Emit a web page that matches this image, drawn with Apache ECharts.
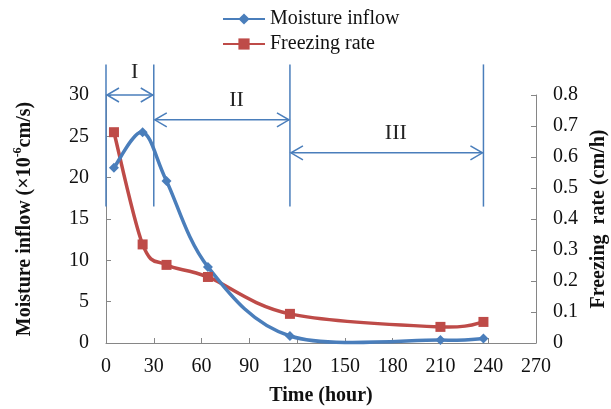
<!DOCTYPE html>
<html>
<head>
	<meta charset="utf-8"/>
	<title>Moisture inflow / Freezing rate</title>
</head>
<body style="margin: 0; background: #fff;">

	<div id="chart" style="width: 611px; height: 409px;"></div>

	<script src="https://cdn.jsdelivr.net/npm/echarts@6/dist/echarts.min.js"></script>
	<script>

		// 数据
		var timeList = [5, 23, 38, 64, 115.5, 210, 237];
		var inflowList = [21.2, 25.5, 19.6, 9.2, 0.85, 0.35, 0.55];
		var rateList = [0.68, 0.318, 0.252, 0.213, 0.094, 0.052, 0.068];
		var xTicks = [0, 270, 30];
		var leftTicks = [0, 30, 5];
		var rightTicks = [0, 0.8, 0.1];

		// 阶段分界线 (x 坐标) 与箭头 (左轴坐标)
		var stageBounds = [0, 30, 115.5, 237];
		var stageTop = 33.7, stageBottom = 16.5;
		var stageNames = ['I', 'II', 'III'];
		var arrowY = [30, 27, 23];
		var nameX = [18, 82, 182];
		var nameY = [32.7, 29.4, 25.4];

		var blue = '#4a7ebb';
		var red = '#be4b48';
		var font = '"Liberation Serif", "DejaVu Serif", serif';

		function pairs (xs, ys) {
			return xs.map(function (x, i) { return [x, ys[i]]; });
		}

		// 平滑曲线 (类似 Excel), 每个点画到下一个点的一段贝塞尔
		function curveRender (ys, color) {
			return function (params, api) {
				var i = params.dataIndex;
				if (i >= timeList.length - 1) return null;
				var p = function (k) {
					k = Math.max(0, Math.min(timeList.length - 1, k));
					return api.coord([timeList[k], ys[k]]);
				};
				var p0 = p(i - 1), p1 = p(i), p2 = p(i + 1), p3 = p(i + 2);
				return {
					type: 'bezierCurve',
					shape: {
						x1: p1[0], y1: p1[1], x2: p2[0], y2: p2[1],
						cpx1: p1[0] + (p2[0] - p0[0]) / 6, cpy1: p1[1] + (p2[1] - p0[1]) / 6,
						cpx2: p2[0] - (p3[0] - p1[0]) / 6, cpy2: p2[1] - (p3[1] - p1[1]) / 6
					},
					style: { stroke: color, lineWidth: 3.5, fill: null, lineCap: 'round' }
				};
			};
		}

		var oChart = document.getElementById('chart');
		var myChart = echarts.init(oChart);

		var axisLabel = { fontFamily: font, fontSize: 20, color: '#111' };
		var axisLine = { show: true, lineStyle: { color: '#868686', width: 1 } };
		var axisTick = { show: true, inside: true, length: 5, lineStyle: { color: '#868686' } };
		var boldName = { fontFamily: font, fontSize: 20, fontWeight: 'bold', color: '#111' };

		var option = {
			animation: false,
			legend: {
				orient: 'vertical',
				left: 217,
				top: 4,
				itemWidth: 42,
				itemHeight: 14,
				itemGap: 5,
				textStyle: { fontFamily: font, fontSize: 20, color: '#111' },
				data: [
					{ name: 'Moisture inflow', lineStyle: { opacity: 1 } },
					{ name: 'Freezing rate', lineStyle: { opacity: 1 } }
				]
			},
			grid: { left: 106, right: 75, top: 95, bottom: 66, outerBoundsMode: 'none', containLabel: false },
			xAxis: {
				type: 'value',
				min: xTicks[0], max: xTicks[1], interval: xTicks[2],
				name: 'Time (hour)',
				nameLocation: 'middle',
				nameGap: 43,
				nameTextStyle: boldName,
				axisLine: axisLine,
				axisTick: axisTick,
				axisLabel: Object.assign({ margin: 14 }, axisLabel),
				splitLine: { show: false }
			},
			yAxis: [
				{
					type: 'value',
					min: leftTicks[0], max: leftTicks[1], interval: leftTicks[2],
					name: '{b|Moisture inflow (×10}{s|-6}{b|cm/s)}',
					nameLocation: 'middle',
					nameGap: 68,
					nameTextStyle: {
						rich: {
							b: boldName,
							s: { fontFamily: font, fontSize: 12, fontWeight: 'bold', color: '#111', verticalAlign: 'top', lineHeight: 26 }
						}
					},
					axisLine: axisLine,
					axisTick: axisTick,
					axisLabel: Object.assign({ margin: 17 }, axisLabel),
					splitLine: { show: false }
				},
				{
					type: 'value',
					min: rightTicks[0], max: rightTicks[1], interval: rightTicks[2],
					name: 'Freezing  rate (cm/h)',
					nameLocation: 'middle',
					nameGap: 48,
					nameRotate: 90,
					nameTextStyle: boldName,
					axisLine: axisLine,
					axisTick: axisTick,
					axisLabel: Object.assign({ margin: 17, formatter: function (v) { return v === 0 ? '0' : v.toFixed(1); } }, axisLabel),
					splitLine: { show: false }
				}
			],
			series: [
				{
					name: 'inflow curve',
					type: 'custom',
					yAxisIndex: 0,
					silent: true,
					clip: false,
					renderItem: curveRender(inflowList, blue),
					data: pairs(timeList, inflowList),
					z: 3
				},
				{
					name: 'rate curve',
					type: 'custom',
					yAxisIndex: 1,
					silent: true,
					clip: false,
					renderItem: curveRender(rateList, red),
					data: pairs(timeList, rateList),
					z: 2
				},
				{
					name: 'Moisture inflow',
					type: 'line',
					yAxisIndex: 0,
					symbol: 'diamond',
					symbolSize: 10,
					data: pairs(timeList, inflowList),
					lineStyle: { color: blue, width: 3.5, opacity: 0 },
					itemStyle: { color: blue },
					z: 4
				},
				{
					name: 'Freezing rate',
					type: 'line',
					yAxisIndex: 1,
					symbol: 'rect',
					symbolSize: 10,
					data: pairs(timeList, rateList),
					lineStyle: { color: red, width: 3.5, opacity: 0 },
					itemStyle: { color: red },
					z: 4
				}
			]
		};

		myChart.setOption(option);

		// 阶段标注: 竖线, 双向箭头, 罗马数字
		function px (x, y) {
			return myChart.convertToPixel({ xAxisIndex: 0, yAxisIndex: 0 }, [x, y]);
		}
		var lineStyle = { stroke: blue, lineWidth: 1.5, fill: null };
		var graphics = [];
		stageBounds.forEach(function (x) {
			var a = px(x, stageTop), b = px(x, stageBottom);
			graphics.push({ type: 'line', silent: true, z: 10, shape: { x1: a[0], y1: a[1], x2: b[0], y2: b[1] }, style: lineStyle });
		});
		stageNames.forEach(function (name, i) {
			var a = px(stageBounds[i], arrowY[i]), b = px(stageBounds[i + 1], arrowY[i]);
			var l = a[0] + 1, r = b[0] - 1, y = a[1];
			graphics.push({ type: 'line', silent: true, z: 10, shape: { x1: l, y1: y, x2: r, y2: y }, style: lineStyle });
			graphics.push({ type: 'polyline', silent: true, z: 10, shape: { points: [[l + 12, y - 7], [l, y], [l + 12, y + 7]] }, style: lineStyle });
			graphics.push({ type: 'polyline', silent: true, z: 10, shape: { points: [[r - 12, y - 7], [r, y], [r - 12, y + 7]] }, style: lineStyle });
			var t = px(nameX[i], nameY[i]);
			graphics.push({
				type: 'text', silent: true, z: 10, x: t[0], y: t[1],
				style: { text: name, font: '22px ' + font, fill: '#222', align: 'center', verticalAlign: 'middle' }
			});
		});
		myChart.setOption({ graphic: graphics });

	</script>
</body>
</html>
